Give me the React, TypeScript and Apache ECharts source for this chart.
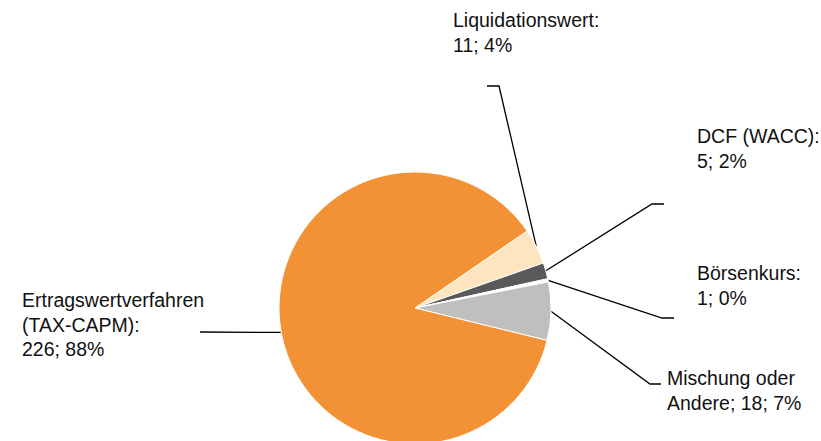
import React, { useEffect, useRef } from "react";
import * as echarts from "echarts";

// ---- data ----
const categories = [
  "Liquidationswert",
  "DCF (WACC)",
  "Börsenkurs",
  "Mischung oder Andere",
  "Ertragswertverfahren (TAX-CAPM)",
];
const counts = [11, 5, 1, 18, 226];
const percentLabels = ["4%", "2%", "0%", "7%", "88%"];
const labelPrefixes = [
  "Liquidationswert:\n",
  "DCF (WACC):\n",
  "Börsenkurs:\n",
  "Mischung oder\nAndere; ",
  "Ertragswertverfahren\n(TAX-CAPM):\n",
];
const colors = ["#FEE5C0", "#595959", "#FFFFFF", "#BFBFBF", "#F39234"];

// ---- layout (annotation positions) ----
const CENTER: [number, number] = [415, 308];
const RADIUS = 136;
const START_ANGLE = 34.5;
const labelPos = [
  [453, 8],
  [697, 124],
  [697, 261],
  [667, 366],
  [22, 288],
];
const lineBend = [
  [499, 86],
  [652, 204],
  [662, 318],
  [650, 384],
  [201, 332],
];
const lineEnd = [
  [487, 86],
  [664, 204],
  [674, 318],
  [661, 384],
  [200, 332],
];

function midPoint(i: number): number[] {
  const total = counts.reduce((a, b) => a + b, 0);
  let before = 0;
  for (let k = 0; k < i; k++) before += counts[k];
  const midDeg = START_ANGLE - ((before + counts[i] / 2) / total) * 360;
  const rad = (midDeg * Math.PI) / 180;
  return [CENTER[0] + RADIUS * Math.cos(rad), CENTER[1] - RADIUS * Math.sin(rad)];
}

export default function App() {
  const ref = useRef<HTMLDivElement>(null);
  useEffect(() => {
    if (!ref.current) return;
    const chart = echarts.init(ref.current, null, { renderer: "svg" });
    chart.setOption({
      animation: false,
      backgroundColor: "#ffffff",
      series: [
        {
          type: "pie",
          center: CENTER,
          radius: RADIUS,
          startAngle: START_ANGLE,
          clockwise: true,
          avoidLabelOverlap: false,
          minAngle: 0,
          itemStyle: { borderColor: "#ffffff", borderWidth: 1 },
          emphasis: { disabled: true },
          data: categories.map((name, i) => ({
            name,
            value: counts[i],
            itemStyle: { color: colors[i] },
          })),
          label: {
            show: true,
            position: "outside",
            formatter: (p: any) =>
              `${labelPrefixes[p.dataIndex]}${counts[p.dataIndex]}; ${percentLabels[p.dataIndex]}`,
            fontFamily: "Liberation Sans",
            fontSize: 19.5,
            lineHeight: 24.5,
            color: "#111111",
            align: "left",
          },
          labelLine: {
            show: true,
            length: 20,
            length2: 10,
            lineStyle: { color: "#000000", width: 1.3 },
          },
          labelLayout: (params: any) => {
            const i = params.dataIndex;
            const start =
              params.labelLinePoints && params.labelLinePoints[0]
                ? params.labelLinePoints[0]
                : midPoint(i);
            return {
              x: labelPos[i][0],
              y: labelPos[i][1],
              align: "left",
              verticalAlign: "top",
              labelLinePoints: [start, lineBend[i], lineEnd[i]],
            };
          },
        },
      ],
    });
    return () => chart.dispose();
  }, []);
  return (
    <div
      ref={ref}
      style={{ position: "fixed", left: 0, top: 0, width: 821, height: 441 }}
    />
  );
}
